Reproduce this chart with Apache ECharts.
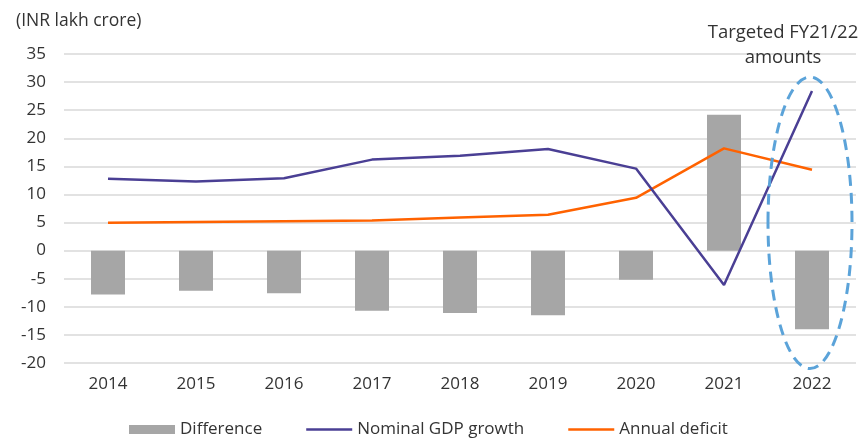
<!DOCTYPE html>
<html>
<head>
<meta charset="utf-8">
<script src="https://cdn.jsdelivr.net/npm/echarts@6/dist/echarts.min.js"></script>
<style>
  html, body { margin: 0; padding: 0; background: #fff; }
  #chart { width: 859px; height: 446px; }
</style>
</head>
<body>
<div id="chart"></div>
<script>
// Fiscal years
var years = ['2014', '2015', '2016', '2017', '2018', '2019', '2020', '2021', '2022'];
// INR lakh crore
var difference = [-7.8, -7.15, -7.6, -10.7, -11.1, -11.5, -5.2, 24.2, -14.0];
var nominalGdpGrowth = [12.8, 12.3, 12.9, 16.2, 16.9, 18.1, 14.6, -6.1, 28.4];
var annualDeficit = [4.95, 5.1, 5.25, 5.35, 5.9, 6.4, 9.4, 18.2, 14.4];
var yTicks = { min: -20, max: 35, step: 5 };

var FONT = '"Open Sans", "Noto Sans", sans-serif';
var TEXT = '#333333';
var GDP_COLOR = '#4a3f94';
var DEFICIT_COLOR = '#ff6200';
var LINE_ICON = 'path://M0,0 L48,0 L48,2.5 L0,2.5 Z';

var chart = echarts.init(document.getElementById('chart'), null, { renderer: 'canvas' });

var option = {
  animation: false,
  backgroundColor: '#ffffff',
  textStyle: { fontFamily: FONT },
  grid: { left: 64, right: 3, top: 54, bottom: 83, containLabel: false },
  title: {
    text: '(INR lakh crore)',
    left: 11, top: 7,
    textStyle: { fontFamily: FONT, fontSize: 17.5, fontWeight: 'normal', color: TEXT }
  },
  legend: {
    left: 124, bottom: 3,
    itemWidth: 46, itemHeight: 9, itemGap: 44,
    textStyle: { fontFamily: FONT, fontSize: 17, color: TEXT },
    data: [
      { name: 'Difference', icon: 'rect' },
      { name: 'Nominal GDP growth', icon: LINE_ICON },
      { name: 'Annual deficit', icon: LINE_ICON }
    ]
  },
  xAxis: {
    type: 'category',
    data: years,
    axisLine: { show: false },
    axisTick: { show: false },
    axisLabel: { fontFamily: FONT, fontSize: 17, color: TEXT, margin: 13 }
  },
  yAxis: {
    type: 'value',
    min: yTicks.min, max: yTicks.max, interval: yTicks.step,
    axisLine: { show: false },
    axisTick: { show: false },
    axisLabel: { fontFamily: FONT, fontSize: 17, color: TEXT, margin: 18 },
    splitLine: { lineStyle: { color: '#d9d9d9', width: 1.5 } }
  },
  series: [
    {
      name: 'Difference',
      type: 'bar',
      data: difference,
      barWidth: 34,
      itemStyle: { color: '#a6a6a6' },
      z: 2
    },
    {
      name: 'Nominal GDP growth',
      type: 'line',
      data: nominalGdpGrowth,
      symbol: 'none',
      lineStyle: { color: GDP_COLOR, width: 2.5 },
      itemStyle: { color: GDP_COLOR },
      z: 4
    },
    {
      name: 'Annual deficit',
      type: 'line',
      data: annualDeficit,
      symbol: 'none',
      lineStyle: { color: DEFICIT_COLOR, width: 2.5 },
      itemStyle: { color: DEFICIT_COLOR },
      z: 3
    }
  ]
};

chart.setOption(option);

// Dashed ellipse around the targeted year and its caption
function drawAnnotation() {
  var last = years[years.length - 1];
  var cx = chart.convertToPixel({ xAxisIndex: 0 }, last);
  var yTop = chart.convertToPixel({ yAxisIndex: 0 }, 30.9);
  var yBottom = chart.convertToPixel({ yAxisIndex: 0 }, -21.0);
  var cy = (yTop + yBottom) / 2;
  var ry = (yBottom - yTop) / 2;
  chart.setOption({
    graphic: [
      {
        type: 'ellipse',
        shape: { cx: cx - 2, cy: cy, rx: 42, ry: ry },
        style: { fill: 'none', stroke: '#5ba3d9', lineWidth: 3, lineDash: [11, 7] },
        z: 10
      },
      {
        type: 'text',
        x: cx - 29, y: 20,
        style: {
          text: 'Targeted FY21/22\namounts',
          align: 'center',
          verticalAlign: 'top',
          font: '18.5px ' + FONT,
          lineHeight: 25,
          fill: TEXT
        },
        z: 10
      }
    ]
  });
}
drawAnnotation();
</script>
</body>
</html>
